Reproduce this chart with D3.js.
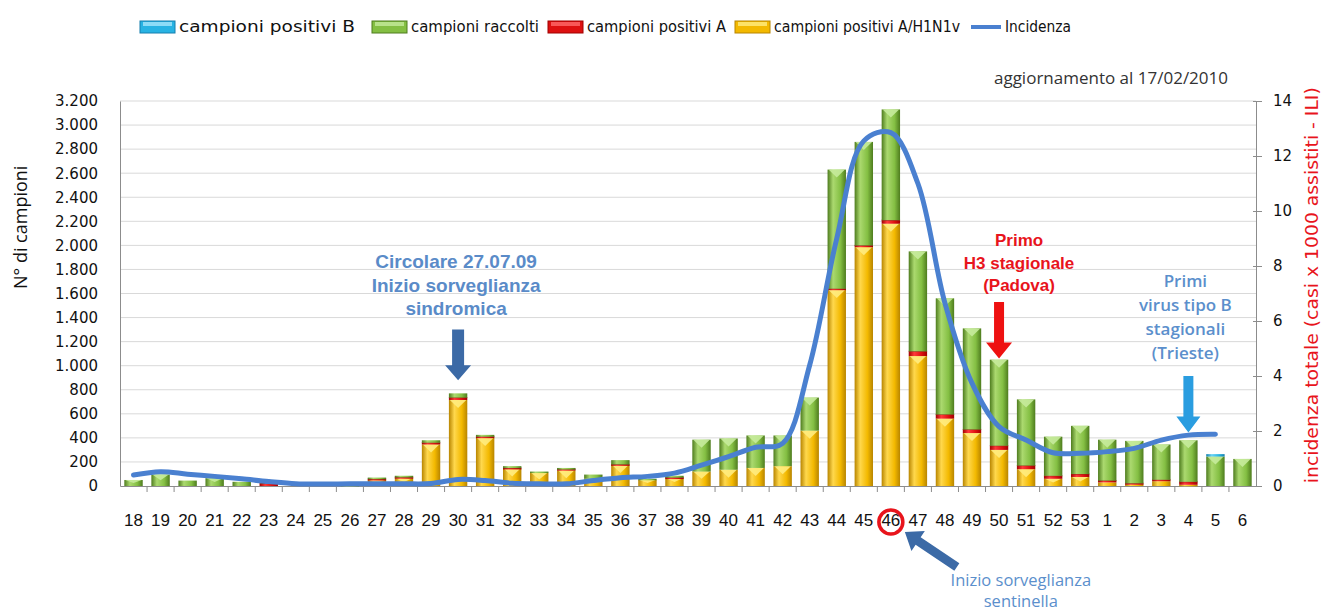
<!DOCTYPE html>
<html>
<head>
<meta charset="utf-8">
<script src="https://cdn.jsdelivr.net/npm/d3@7"></script>
<style>
  body { margin: 0; background: #fff; }
  svg { display: block; }
</style>
</head>
<body>
<div id="chart"></div>
<script>
// settimane (2009 -> 2010)
const weeks = ["18","19","20","21","22","23","24","25","26","27","28","29","30","31","32","33","34","35","36","37","38","39","40","41","42","43","44","45","46","47","48","49","50","51","52","53","1","2","3","4","5","6"];

// campioni raccolti (totale per settimana)
const raccolti = [50,95,45,65,35,20,0,0,10,70,85,380,770,425,165,120,150,95,215,60,85,385,395,420,420,735,2630,2860,3130,1950,1560,1310,1050,720,410,500,385,375,345,380,265,225];
// campioni positivi A/H1N1v
const positiviH1N1v = [0,0,0,0,0,0,0,0,0,50,65,345,715,400,145,110,130,60,175,50,65,120,135,150,165,460,1630,1985,2180,1080,560,440,300,140,60,75,30,15,40,10,0,0];
// campioni positivi A
const positiviA = [0,0,0,0,0,20,0,0,0,8,8,15,20,10,5,0,10,0,5,0,5,0,0,0,0,0,10,15,30,40,35,30,35,30,25,25,15,8,12,25,0,0];
// campioni positivi B
const positiviB = [0,0,0,0,0,0,0,0,0,0,0,0,0,0,0,0,0,0,0,0,0,0,0,0,0,0,0,0,0,0,0,0,0,0,0,0,0,0,0,0,20,0];
// incidenza (casi x 1000 assistiti)
const incidenza = [0.4,0.52,0.43,0.35,0.26,0.16,0.08,0.07,0.08,0.08,0.08,0.09,0.24,0.2,0.1,0.08,0.08,0.2,0.3,0.35,0.47,0.76,1.07,1.41,1.55,4.4,9.0,12.55,12.85,11.0,6.65,3.74,2.16,1.67,1.21,1.19,1.25,1.37,1.67,1.85,1.88,null];

const leftTicks = d3.range(0, 3201, 200);
const rightTicks = d3.range(0, 15, 2);

const W = 1328, H = 614;
const margin = { top: 101, right: 72, bottom: 128, left: 120 };
const plotW = W - margin.left - margin.right;
const plotH = H - margin.top - margin.bottom;

const svg = d3.select("#chart").append("svg")
  .attr("width", W).attr("height", H);

const colors = {
  yellow: ["#b88500", "#ffd84d", "#f3b900"],
  red:    ["#a00000", "#ff3a3a", "#dd1010"],
  green:  ["#4e7c1e", "#abd96f", "#84bf43"],
  cyan:   ["#157fae", "#6ad4f6", "#28b3e3"]
};
const tipColor = { yellow: "#ffec80", red: "#ff6a6a", green: "#c6eb9c", cyan: "#a6e6fb" };

const defs = svg.append("defs");
Object.entries(colors).forEach(([k, c]) => {
  const g = defs.append("linearGradient").attr("id", "grad-" + k)
    .attr("x1", 0).attr("x2", 1).attr("y1", 0).attr("y2", 0);
  g.append("stop").attr("offset", "0%").attr("stop-color", c[0]);
  g.append("stop").attr("offset", "30%").attr("stop-color", c[1]);
  g.append("stop").attr("offset", "70%").attr("stop-color", c[2]);
  g.append("stop").attr("offset", "100%").attr("stop-color", c[0]);
});

// scales
const x = d3.scaleBand().domain(weeks)
  .range([margin.left, margin.left + plotW])
  .paddingInner(0.32).paddingOuter(0.16);
const yL = d3.scaleLinear().domain([0, 3200]).range([margin.top + plotH, margin.top]);
const yR = d3.scaleLinear().domain([0, 14]).range([margin.top + plotH, margin.top]);
const xc = w => x(w) + x.bandwidth() / 2;

// gridlines
svg.append("g").selectAll("line").data(leftTicks.slice(1)).join("line")
  .attr("x1", margin.left).attr("x2", margin.left + plotW)
  .attr("y1", d => yL(d)).attr("y2", d => yL(d))
  .attr("stroke", "#d9d9d9").attr("stroke-width", 1);

// left axis
const fmt = d3.formatLocale({ decimal: ",", thousands: ".", grouping: [3], currency: ["", "€"] }).format(",d");
const leftAxis = svg.append("g")
  .attr("transform", `translate(${margin.left},0)`)
  .call(d3.axisLeft(yL).tickValues(leftTicks).tickFormat(fmt).tickSize(0).tickPadding(22));
leftAxis.select(".domain").attr("stroke", "#8c8c8c");
leftAxis.selectAll("text").attr("font-family", "DejaVu Sans, Verdana, sans-serif")
  .attr("font-size", 15).attr("fill", "#111");

// right axis
const rightAxis = svg.append("g")
  .attr("transform", `translate(${margin.left + plotW},0)`)
  .call(d3.axisRight(yR).tickValues(rightTicks).tickSize(6).tickPadding(11));
rightAxis.select(".domain").attr("stroke", "#8c8c8c");
rightAxis.selectAll(".tick line").attr("stroke", "#8c8c8c").attr("x1", -3);
rightAxis.selectAll("text").attr("font-family", "DejaVu Sans, Verdana, sans-serif")
  .attr("font-size", 15).attr("fill", "#111");

// bottom axis
const bottomAxis = svg.append("g")
  .attr("transform", `translate(0,${margin.top + plotH})`)
  .call(d3.axisBottom(x).tickSize(0).tickPadding(28));
bottomAxis.select(".domain").attr("stroke", "#8c8c8c");
bottomAxis.selectAll("text").attr("font-family", "Liberation Sans Narrow, Liberation Sans, sans-serif")
  .attr("font-size", 17).attr("fill", "#111");
// tick marks between bands
const step = x.step();
svg.append("g").selectAll("line").data(weeks.slice(1)).join("line")
  .attr("x1", d => x(d) - step * x.paddingInner() / 2)
  .attr("x2", d => x(d) - step * x.paddingInner() / 2)
  .attr("y1", margin.top + plotH).attr("y2", margin.top + plotH + 6)
  .attr("stroke", "#8c8c8c");

// stacked bars
const rows = weeks.map((w, i) => ({
  week: w,
  yellow: positiviH1N1v[i],
  red: positiviA[i],
  green: Math.max(0, raccolti[i] - positiviH1N1v[i] - positiviA[i] - positiviB[i]),
  cyan: positiviB[i]
}));
const keys = ["yellow", "red", "green", "cyan"];
const stacked = d3.stack().keys(keys)(rows);

const bars = svg.append("g");
stacked.forEach(layer => {
  const k = layer.key;
  const g = bars.append("g");
  const segs = layer.filter(d => d[1] - d[0] > 0);
  g.selectAll("rect").data(segs).join("rect")
    .attr("x", d => x(d.data.week))
    .attr("width", x.bandwidth())
    .attr("y", d => yL(d[1]))
    .attr("height", d => Math.max(1.5, yL(d[0]) - yL(d[1])))
    .attr("fill", `url(#grad-${k})`);
  if (k === "red") {
    g.selectAll("line").data(segs).join("line")
      .attr("x1", d => x(d.data.week)).attr("x2", d => x(d.data.week) + x.bandwidth())
      .attr("y1", d => yL(d[1])).attr("y2", d => yL(d[1]))
      .attr("stroke", "#8a2a10").attr("stroke-width", 1);
  } else {
    // bevel "V" on top of each segment
    g.selectAll("polygon").data(segs.filter(d => yL(d[0]) - yL(d[1]) > 6)).join("polygon")
      .attr("points", d => {
        const x0 = x(d.data.week), x1 = x0 + x.bandwidth(), t = yL(d[1]);
        const h = Math.min(8, (yL(d[0]) - t) / 2);
        return `${x0 + 1},${t} ${x1 - 1},${t} ${(x0 + x1) / 2},${t + h}`;
      })
      .attr("fill", tipColor[k]).attr("opacity", 0.9);
  }
});

// incidence line
const line = d3.line()
  .defined(d => d != null)
  .x((d, i) => xc(weeks[i]))
  .y(d => yR(d))
  .curve(d3.curveCatmullRom.alpha(0.5));
svg.append("path").datum(incidenza)
  .attr("d", line)
  .attr("fill", "none").attr("stroke", "#4a80d0").attr("stroke-width", 5)
  .attr("stroke-linejoin", "round").attr("stroke-linecap", "round");

// axis titles
svg.append("text")
  .attr("transform", `translate(27,${yL(2150)}) rotate(-90)`)
  .attr("text-anchor", "middle")
  .attr("font-family", "Open Sans, sans-serif").attr("font-size", 18).attr("fill", "#111")
  .text("N° di campioni");
svg.append("text")
  .attr("transform", `translate(1318,${yR(7.3)}) rotate(-90)`)
  .attr("text-anchor", "middle")
  .attr("font-family", "DejaVu Sans, sans-serif").attr("font-size", 17).attr("fill", "#e8141c")
  .attr("textLength", 396).attr("lengthAdjust", "spacingAndGlyphs")
  .text("incidenza totale (casi x 1000 assistiti - ILI)");

svg.append("text")
  .attr("x", 1228).attr("y", 84).attr("text-anchor", "end")
  .attr("font-family", "Open Sans, sans-serif").attr("font-size", 17).attr("fill", "#333")
  .text("aggiornamento al 17/02/2010");

// legend
const legendItems = [
  { label: "campioni positivi B", key: "cyan", x: 140, w: 176 },
  { label: "campioni raccolti", key: "green", x: 372, w: 128 },
  { label: "campioni positivi A", key: "red", x: 548, w: 139 },
  { label: "campioni positivi A/H1N1v", key: "yellow", x: 735, w: 186 },
  { label: "Incidenza", key: "line", x: 970, w: 66 }
];
const legend = svg.append("g");
legendItems.forEach(it => {
  const g = legend.append("g").attr("transform", `translate(${it.x},0)`);
  if (it.key === "line") {
    g.append("line").attr("x1", 1).attr("x2", 31).attr("y1", 27).attr("y2", 27)
      .attr("stroke", "#4a80d0").attr("stroke-width", 4);
  } else {
    g.append("rect").attr("x", 0).attr("y", 21).attr("width", 35).attr("height", 12)
      .attr("fill", colors[it.key][2]).attr("stroke", colors[it.key][0]).attr("stroke-width", 1);
    g.append("rect").attr("x", 3).attr("y", 22).attr("width", 29).attr("height", 4)
      .attr("fill", tipColor[it.key]).attr("opacity", 0.8);
  }
  g.append("text").attr("x", it.key === "line" ? 35 : 39).attr("y", 32)
    .attr("font-family", "DejaVu Sans, sans-serif").attr("font-size", 15.5).attr("fill", "#111")
    .attr("textLength", it.w).attr("lengthAdjust", "spacingAndGlyphs")
    .text(it.label);
});

// block arrows
function blockArrow(x1, y1, x2, y2, shaft, head, headLen, color) {
  const dx = x2 - x1, dy = y2 - y1, len = Math.hypot(dx, dy);
  const ux = dx / len, uy = dy / len, nx = -uy, ny = ux;
  const bx = x2 - ux * headLen, by = y2 - uy * headLen;
  const p = [
    [x1 + nx * shaft / 2, y1 + ny * shaft / 2],
    [bx + nx * shaft / 2, by + ny * shaft / 2],
    [bx + nx * head / 2, by + ny * head / 2],
    [x2, y2],
    [bx - nx * head / 2, by - ny * head / 2],
    [bx - nx * shaft / 2, by - ny * shaft / 2],
    [x1 - nx * shaft / 2, y1 - ny * shaft / 2]
  ];
  svg.append("polygon").attr("points", p.map(q => q.join(",")).join(" ")).attr("fill", color);
}

function textBlock(cx, ys, lines, opts) {
  const t = svg.append("g");
  lines.forEach((s, i) => {
    t.append("text").attr("x", cx).attr("y", ys[i]).attr("text-anchor", "middle")
      .attr("dominant-baseline", "middle")
      .attr("font-family", opts.family).attr("font-size", opts.size)
      .attr("font-weight", opts.weight).attr("fill", opts.color).text(s);
  });
}

// Circolare 27.07.09
textBlock(xc("30") - 2, [yL(1850), yL(1655), yL(1465)],
  ["Circolare 27.07.09", "Inizio sorveglianza", "sindromica"],
  { family: "Liberation Sans, Arial, sans-serif", size: 19, weight: "bold", color: "#5a8bc8" });
blockArrow(xc("30"), yL(1300), xc("30"), yL(880), 12, 26, 15, "#3c6aa6");

// Primo H3 stagionale
textBlock(xc("50") + 20, [yL(2030), yL(1840), yL(1655)],
  ["Primo", "H3 stagionale", "(Padova)"],
  { family: "Liberation Sans, Arial, sans-serif", size: 17, weight: "bold", color: "#e8141c" });
blockArrow(xc("50"), yL(1530), xc("50"), yL(1060), 10, 26, 16, "#ee1111");

// Primi virus tipo B
textBlock(xc("4") - 3, [yL(1690), yL(1490), yL(1290), yL(1095)],
  ["Primi", "virus tipo B", "stagionali", "(Trieste)"],
  { family: "Open Sans, sans-serif", size: 17, weight: "600", color: "#5b8fcc" });
blockArrow(xc("4"), yL(915), xc("4"), yL(445), 10, 24, 16, "#2a9de0");

// Inizio sorveglianza sentinella
const ax = xc("46");
svg.append("circle").attr("cx", ax).attr("cy", 522).attr("r", 12)
  .attr("fill", "none").attr("stroke", "#e8141c").attr("stroke-width", 3.5);
blockArrow(ax + 66, 567, ax + 14, 532, 9, 24, 16, "#3c6aa6");
textBlock(ax + 130, [582, 603], ["Inizio sorveglianza", "sentinella"],
  { family: "Open Sans, sans-serif", size: 16.5, weight: "normal", color: "#5b8fcc" });
</script>
</body>
</html>
